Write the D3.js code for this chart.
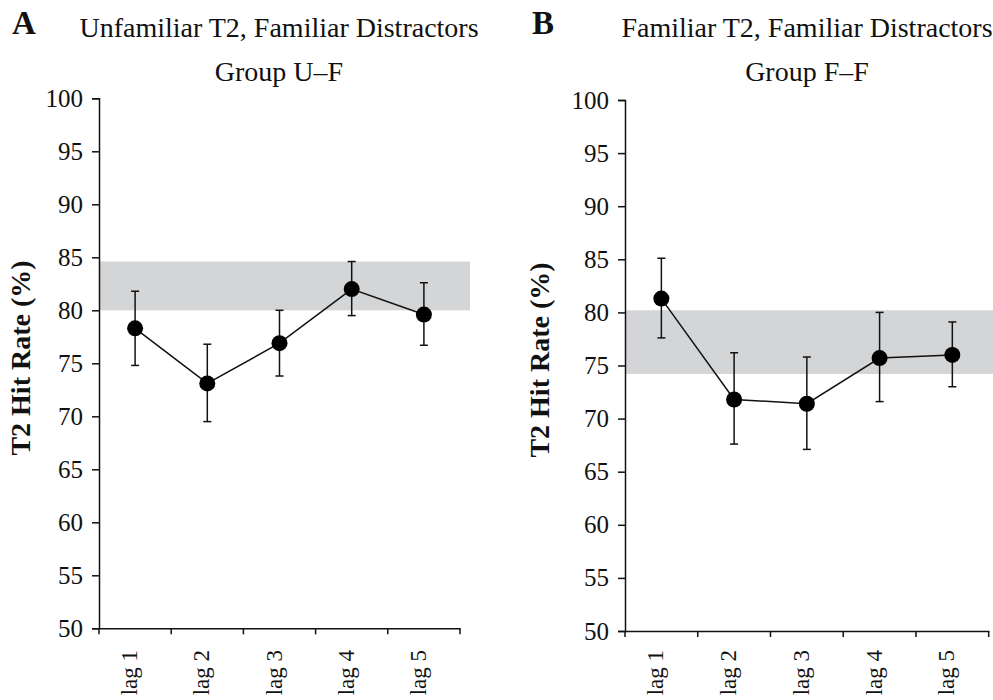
<!DOCTYPE html>
<html>
<head>
<meta charset="utf-8">
<script src="https://cdn.jsdelivr.net/npm/d3@7"></script>
<style>
  body { margin: 0; background: #fff; }
  svg { display: block; }
  text { font-family: "Liberation Serif", "Times New Roman", serif; fill: #111; }
</style>
</head>
<body>
<div id="chart"></div>
<script>
// lag categories shared by both panels
const lags = ["lag 1", "lag 2", "lag 3", "lag 4", "lag 5"];

// panel A: unfamiliar T2, familiar distractors (group U-F)
const hitRateA = [78.3, 73.1, 76.9, 82.0, 79.6];
const errTopA = [81.8, 76.8, 80.0, 84.6, 82.6];
const errBottomA = [74.8, 69.5, 73.8, 79.5, 76.7];
const bandA = [80.0, 84.6];

// panel B: familiar T2, familiar distractors (group F-F)
const hitRateB = [81.3, 71.8, 71.4, 75.7, 76.0];
const errTopB = [85.1, 76.2, 75.8, 80.0, 79.1];
const errBottomB = [77.6, 67.6, 67.1, 71.6, 73.0];
const bandB = [74.2, 80.2];

const yTicks = [50, 55, 60, 65, 70, 75, 80, 85, 90, 95, 100];

const svg = d3.select("#chart")
    .append("svg")
    .attr("width", 993)
    .attr("height", 700);

/**
 * Draw one panel of the figure
 */
function drawPanel(opts) {
    const x = d3.scaleBand().domain(lags).range([opts.left, opts.right]);
    const y = d3.scaleLinear().domain([50, 100]).range([opts.bottom, opts.top]);

    const data = lags.map((lag, i) => ({
        lag: lag,
        value: opts.values[i],
        hi: opts.hi[i],
        lo: opts.lo[i],
    }));

    const g = svg.append("g");

    // shaded reference band
    g.append("rect")
        .attr("x", opts.left)
        .attr("width", opts.bandRight - opts.left)
        .attr("y", y(opts.band[1]))
        .attr("height", y(opts.band[0]) - y(opts.band[1]))
        .attr("fill", "#d4d5d7");

    // y axis
    const yAxis = g.append("g")
        .attr("transform", `translate(${opts.left},0)`)
        .call(d3.axisLeft(y).tickValues(yTicks).tickSize(7).tickPadding(9))
        .attr("font-family", null)
        .attr("font-size", null);
    yAxis.selectAll("text")
        .style("font-size", "25px")
        .attr("fill", "#111");

    // x axis, ticks sit on band edges
    const xAxis = g.append("g")
        .attr("transform", `translate(0,${opts.bottom})`)
        .call(d3.axisBottom(x).tickSize(0).tickFormat(""));
    xAxis.selectAll(".tick").remove();
    const edges = lags.map((d) => x(d)).concat([opts.right]);
    xAxis.selectAll("line.edge")
        .data(edges)
        .enter()
        .append("line")
        .attr("class", "edge")
        .attr("x1", (d) => d)
        .attr("x2", (d) => d)
        .attr("y1", 0)
        .attr("y2", 6)
        .attr("stroke", "#111")
        .attr("stroke-width", 1.5);

    g.selectAll(".domain").attr("stroke", "#111").attr("stroke-width", 1.5);
    g.selectAll(".tick line").attr("stroke", "#111").attr("stroke-width", 1.5);

    // rotated lag labels
    g.selectAll("text.lag")
        .data(lags)
        .enter()
        .append("text")
        .attr("class", "lag")
        .attr("transform", (d) => `translate(${x(d) + x.bandwidth() / 2 - 6},650) rotate(-90)`)
        .attr("text-anchor", "end")
        .attr("dy", "0.35em")
        .style("font-size", "23px")
        .text((d) => d);

    const cx = (d) => x(d.lag) + x.bandwidth() / 2;

    // error bars
    const err = g.append("g").attr("stroke", "#111").attr("stroke-width", 1.5);
    err.selectAll("line.v")
        .data(data)
        .enter()
        .append("line")
        .attr("x1", cx)
        .attr("x2", cx)
        .attr("y1", (d) => y(d.hi))
        .attr("y2", (d) => y(d.lo));
    ["hi", "lo"].forEach((k) => {
        err.selectAll(`line.cap-${k}`)
            .data(data)
            .enter()
            .append("line")
            .attr("x1", (d) => cx(d) - 4)
            .attr("x2", (d) => cx(d) + 4)
            .attr("y1", (d) => y(d[k]))
            .attr("y2", (d) => y(d[k]));
    });

    // connecting line
    g.append("path")
        .datum(data)
        .attr("fill", "none")
        .attr("stroke", "#111")
        .attr("stroke-width", 1.5)
        .attr("d", d3.line().x(cx).y((d) => y(d.value)));

    g.selectAll("circle")
        .data(data)
        .enter()
        .append("circle")
        .attr("cx", cx)
        .attr("cy", (d) => y(d.value))
        .attr("r", 8)
        .attr("fill", "#000");

    // titles
    g.append("text")
        .attr("x", opts.letterX)
        .attr("y", 34)
        .style("font-size", "33px")
        .style("font-weight", "bold")
        .text(opts.letter);
    g.append("text")
        .attr("x", opts.titleX)
        .attr("y", 37)
        .attr("text-anchor", "middle")
        .style("font-size", "28px")
        .text(opts.title);
    g.append("text")
        .attr("x", opts.titleX)
        .attr("y", 81)
        .attr("text-anchor", "middle")
        .style("font-size", "28px")
        .text(opts.subtitle);

    // y axis label
    g.append("text")
        .attr("transform", `translate(${opts.labelX},${opts.labelY}) rotate(-90)`)
        .attr("text-anchor", "middle")
        .attr("dy", "0.35em")
        .style("font-size", "28px")
        .style("font-weight", "bold")
        .text("T2 Hit Rate (%)");
}

drawPanel({
    left: 99, right: 460, top: 98.3, bottom: 628.3, bandRight: 470,
    values: hitRateA, hi: errTopA, lo: errBottomA, band: bandA,
    letter: "A", letterX: 12, title: "Unfamiliar T2, Familiar Distractors",
    subtitle: "Group U\u2013F", titleX: 279, labelX: 20, labelY: 358,
});

drawPanel({
    left: 625, right: 988.7, top: 100, bottom: 631, bandRight: 993,
    values: hitRateB, hi: errTopB, lo: errBottomB, band: bandB,
    letter: "B", letterX: 532, title: "Familiar T2, Familiar Distractors",
    subtitle: "Group F\u2013F", titleX: 807, labelX: 539, labelY: 360,
});
</script>
</body>
</html>
